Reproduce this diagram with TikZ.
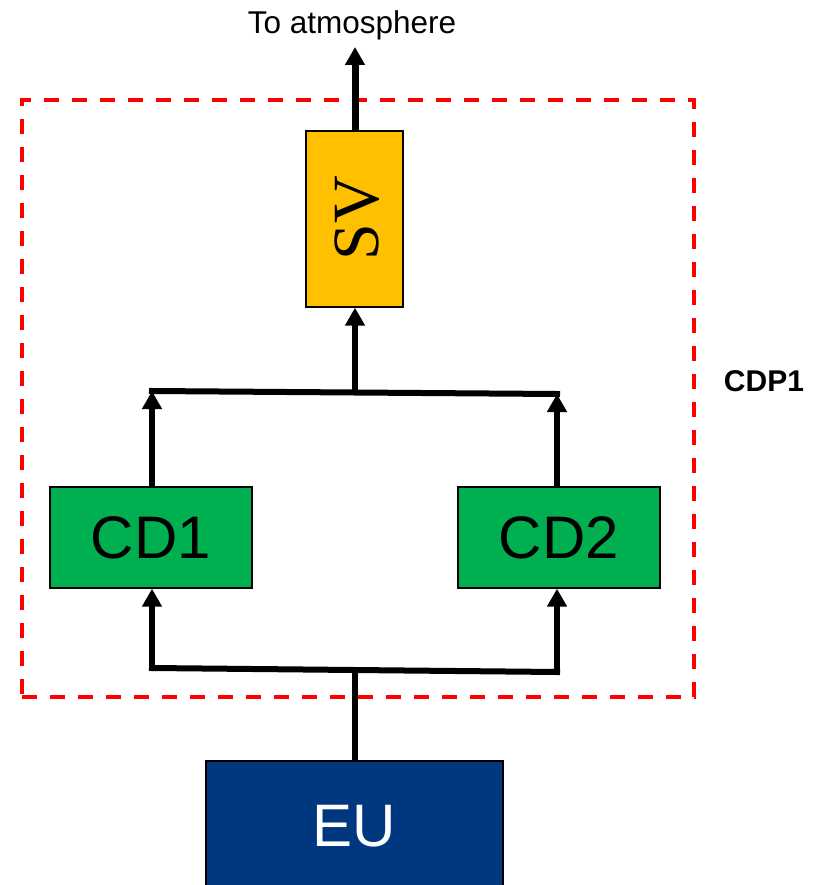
\documentclass[tikz,border=0pt]{standalone}
\usepackage{fontspec}
\setmainfont{Liberation Sans}
\newfontfamily\svfont{Liberation Serif}
\usetikzlibrary{arrows.meta}
\definecolor{svfill}{RGB}{255,192,0}
\definecolor{cdfill}{RGB}{0,176,80}
\definecolor{eufill}{RGB}{0,56,128}
\definecolor{dashred}{RGB}{255,0,0}
\begin{document}
\begin{tikzpicture}[x=1pt,y=-1pt,
  blk/.style={draw=black,line width=1.3pt,inner sep=0pt,anchor=center},
  conn/.style={line width=6pt,line cap=rect},
  flow/.style={line width=6pt,-{Triangle[width=19pt,length=18pt]}},
  bigtxt/.style={font=\fontsize{60}{60}\selectfont}]
\clip (0,0) rectangle (813,885);
% dashed boundary
\node[draw=dashred,line width=4pt,dash pattern=on 15pt off 13pt,minimum width=672pt,minimum height=597pt,inner sep=0pt] (cdp) at (358,398.5) {};
\node[font=\fontsize{30}{30}\selectfont\bfseries] (cdplab) at (764,381) {CDP1};
% boxes
\node[blk,fill=svfill,minimum width=97pt,minimum height=176pt] (sv) at (354.5,219) {};
\node[font=\svfont\fontsize{66}{66}\selectfont,rotate=90] (svt) at (357,218) {SV};
\node[blk,fill=cdfill,minimum width=202pt,minimum height=101pt,bigtxt] (cd1) at (151,537.5) {CD1};
\node[blk,fill=cdfill,minimum width=202pt,minimum height=101pt,bigtxt] (cd2) at (559,537.5) {CD2};
\node[blk,fill=eufill,minimum width=297pt,minimum height=130pt,bigtxt,text=white] (eu) at (354.5,826) {EU};
\node[font=\fontsize{31.5}{31.5}\selectfont] (atm) at (352,25.5) {To atmosphere};
% junction coordinates
\coordinate (atmtip) at (355,47);
\coordinate (jt) at (355,392);
\coordinate (jl) at (152,391);
\coordinate (jr) at (557,394);
\coordinate (bm) at (355,670);
\coordinate (bl) at (152,668);
\coordinate (br) at (557,672);
% connectors
\draw[flow,line width=7pt] (sv.north -| atmtip) -- (atmtip);
\draw[flow] (jt) -- (jt |- sv.south);
\draw[conn] (jl) -- (jr);
\draw[flow] (jl |- cd1.north) -- (jl);
\draw[flow] (jr |- cd2.north) -- (jr);
\draw[conn,line cap=butt] (bm |- eu.north) -- (bm);
\draw[conn] (bl) -- (br);
\draw[flow] (bl) -- (bl |- cd1.south);
\draw[flow] (br) -- (br |- cd2.south);
\end{tikzpicture}
\end{document}
